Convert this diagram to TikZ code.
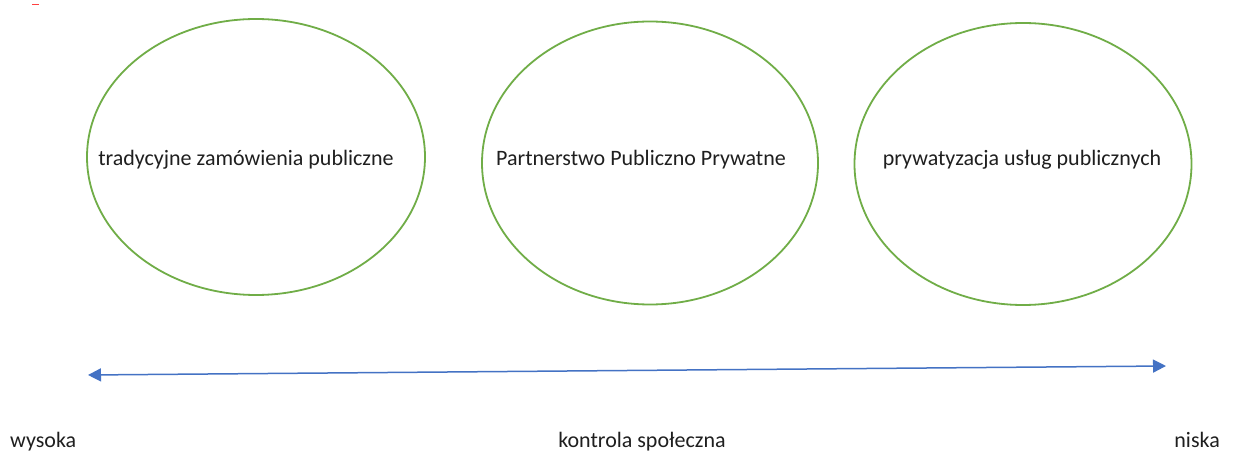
\documentclass[tikz,border=0pt]{standalone}
\usepackage{fontspec}
\setmainfont{Carlito}
\usetikzlibrary{shapes.geometric,arrows.meta}
\definecolor{ovalgreen}{HTML}{70AD47}
\definecolor{axisblue}{HTML}{4472C4}
\tikzset{
  oval/.style={ellipse, draw=ovalgreen, line width=1.8pt, inner sep=0pt},
  ovaltext/.style={anchor=base, inner sep=0pt, text=black!88, font=\fontsize{22}{26}\selectfont},
  axislabel/.style={anchor=base, inner sep=0pt, text=black!88, font=\fontsize{22}{26}\selectfont},
  axisline/.style={draw=axisblue, line width=1.5pt,
    {Triangle[length=13pt,width=13pt]}-{Triangle[length=13pt,width=13pt]}}
}
\begin{document}
\begin{tikzpicture}[x=1pt,y=-1pt]
\useasboundingbox (0,0) rectangle (1234,454);
\fill[white] (0,0) rectangle (1234,454);
% small red mark at top left
\coordinate (ma) at (32,4.5);
\coordinate (mb) at (39,4.5);
\draw[red!75, line width=1.2pt] (ma) -- (mb);
% ovals
\node[oval, minimum width=338pt, minimum height=276pt] (o1) at (256,157) {};
\node[oval, minimum width=336pt, minimum height=283pt] (o2) at (650,163) {};
\node[oval, minimum width=337pt, minimum height=282pt] (o3) at (1023,164) {};
\node[ovaltext] (t1) at (246,166) {tradycyjne zamówienia publiczne};
\node[ovaltext] (t2) at (641,166) {Partnerstwo Publiczno Prywatne};
\node[ovaltext] (t3) at (1022,166) {prywatyzacja usług publicznych};
% axis
\coordinate (L) at (88,375);
\coordinate (R) at (1166,366);
\draw[axisline] (L) -- (R);
\node[axislabel, anchor=base west] (hi) at (10,447) {wysoka};
\node[axislabel] (mid) at (642,447) {kontrola społeczna};
\node[axislabel, anchor=base east] (lo) at (1220,447) {niska};
\end{tikzpicture}
\end{document}
